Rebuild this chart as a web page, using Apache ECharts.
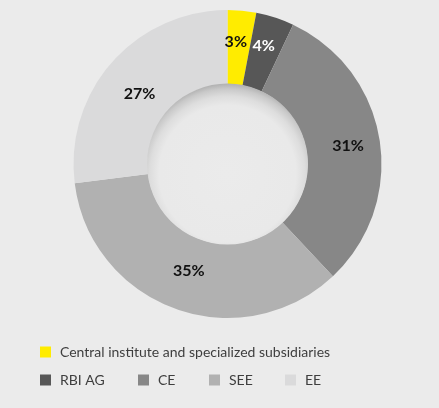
<!DOCTYPE html>
<html>
<head>
<meta charset="utf-8">
<style>
  html, body { margin: 0; padding: 0; background: #ebebeb; }
  #chart { width: 439px; height: 408px; }
</style>
<script src="https://cdn.jsdelivr.net/npm/echarts@6/dist/echarts.min.js"></script>
</head>
<body>
<div id="chart"></div>
<script>
// Segment names, shares (%) and fills, clockwise from 12 o'clock
const segments = ['Central institute and specialized subsidiaries', 'RBI AG', 'CE', 'SEE', 'EE'];
const shares = [3, 4, 31, 35, 27];
const fills = ['#ffec00', '#575757', '#878787', '#b1b1b1', '#dadadb'];
const labelColors = ['#111111', '#ffffff', '#111111', '#111111', '#111111'];
// Small nudges so the percentage labels sit clear of the segment edges
const labelNudges = [[-3, -3], [-1, -4], [2, 1], [2, -6], [2, 9]];

// Legend rows: first entry alone, the rest on one line
const legendSlots = [
  { left: 40, top: 345 },
  { left: 40, top: 373 },
  { left: 138, top: 373 },
  { left: 209, top: 373 },
  { left: 285, top: 373 }
];

const cx = 227.5, cy = 164, rInner = 80, rOuter = 154;

const chart = echarts.init(document.getElementById('chart'), null, { renderer: 'canvas' });

const option = {
  backgroundColor: '#ebebeb',
  animation: false,
  legend: segments.map((name, i) => ({
    data: [name],
    left: legendSlots[i].left,
    top: legendSlots[i].top,
    orient: 'horizontal',
    icon: 'rect',
    itemWidth: 11,
    itemHeight: 11,
    itemGap: 0,
    padding: 0,
    selectedMode: false,
    textStyle: { color: '#3e3e3e', fontSize: 14, fontFamily: 'Lato', padding: [0, 0, 0, 4] }
  })),
  graphic: [{
    type: 'circle',
    z: 100,
    silent: true,
    shape: { cx: cx, cy: cy, r: rInner + 0.5 },
    style: {
      fill: {
        type: 'radial',
        x: 0.5, y: 0.56, r: 0.56,
        colorStops: [
          { offset: 0, color: '#ebebeb' },
          { offset: 0.76, color: '#e9e9e9' },
          { offset: 0.86, color: '#dddddd' },
          { offset: 0.94, color: '#c9c9c9' },
          { offset: 1, color: '#b0b0b0' }
        ]
      }
    }
  }],
  series: [{
    type: 'pie',
    center: [cx, cy],
    radius: [rInner, rOuter],
    startAngle: 90,
    clockwise: true,
    silent: true,
    avoidLabelOverlap: false,
    itemStyle: { borderWidth: 0 },
    label: {
      show: true,
      position: 'inside',
      formatter: '{c}%',
      fontFamily: 'Lato',
      fontSize: 16,
      fontWeight: 'bold'
    },
    labelLine: { show: false },
    data: segments.map((name, i) => ({
      name: name,
      value: shares[i],
      itemStyle: { color: fills[i] },
      label: { color: labelColors[i], offset: labelNudges[i] }
    }))
  }]
};

chart.setOption(option);
</script>
</body>
</html>
